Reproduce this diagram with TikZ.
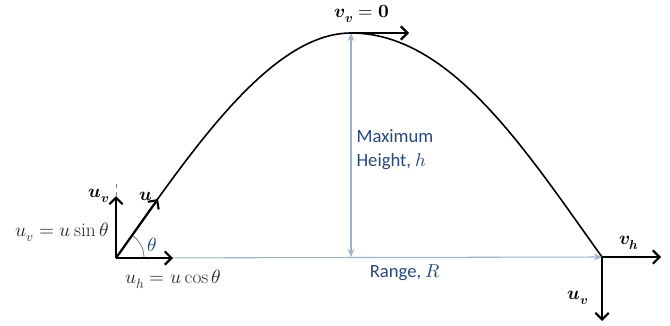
\documentclass[tikz,border=0pt]{standalone}
\usepackage{fontspec}
\usepackage{unicode-math}
\setmainfont{Carlito}
\setmathfont{Latin Modern Math}
\setmathrm{Latin Modern Roman}
\usepackage{tikz}
\usetikzlibrary{positioning,arrows.meta}
\definecolor{guide}{RGB}{160,178,198}
\definecolor{labelblue}{RGB}{40,72,118}
\definecolor{eqgray}{RGB}{45,45,45}

\tikzset{
  vec/.style={line width=1.6pt,-{Straight Barb[length=5pt,width=10pt]}},
  guideline/.style={guide,line width=0.8pt},
  eq/.style={text=eqgray,font=\fontsize{14.5}{16}\selectfont,inner sep=1pt},
  veclabel/.style={font=\fontsize{14}{16}\selectfont,inner sep=1pt},
  bluetext/.style={text=labelblue,font=\fontsize{14}{18}\selectfont,inner sep=1pt,align=left}
}

\begin{document}
\begin{tikzpicture}[x=0.75pt,y=-0.75pt]
\useasboundingbox (0,0) rectangle (670,325);
% points of the flight
\coordinate (launch) at (116,258);
\coordinate (apex) at (351,33);
\coordinate (land) at (602,257);
\coordinate (foot) at (351,257);
\coordinate (uTip) at (158,199);
\coordinate (uvTip) at (116,196);
\coordinate (uhTip) at (173,258);
\coordinate (mark) at (116,181);
\coordinate (vvTip) at (409,33);
\coordinate (vhTip) at (661,257);
\coordinate (uvDown) at (602,321);

% path of the projectile
\draw[line width=1.2pt] (launch) .. controls (190,153) and (270,33) .. (apex)
  .. controls (451,33) and (526,151) .. (land);

% range and height guides
\draw[guideline,-{Stealth[length=6pt,width=5pt,open]}] (launch) -- (land);
\draw[guideline,{Stealth[length=6pt,width=5pt,open]}-{Stealth[length=6pt,width=5pt,open]}] (apex) -- (foot);
\draw[gray,dashed,line width=0.6pt] (uvTip) -- (mark);
\draw[labelblue!70,line width=0.6pt] ([xshift=21pt]launch) arc[start angle=0,end angle=55,radius=21pt];

% velocity components
\draw[vec] (launch) -- (uTip);
\draw[vec] (launch) -- (uvTip);
\draw[vec] (launch) -- (uhTip);
\draw[vec] (apex) -- (vvTip);
\draw[vec] (land) -- (vhTip);
\draw[vec] (land) -- (uvDown);

% labels
\node[veclabel] (uvLbl) at (99,196) {$\symbfit{u}_{\symbfit{v}}$};
\node[veclabel] (uLbl) at (146,196) {$\symbfit{u}$};
\node[eq] (uvEq) at (62,232) {$u_v = u\sin\theta$};
\node[eq,text=labelblue] (theta) at (152,245) {$\theta$};
\node[eq] (uhEq) at (173,279) {$u_h = u\cos\theta$};
\node[veclabel] (vvLbl) at (362,14) {$\symbfit{v}_{\symbfit{v}}\symbf{=0}$};
\node[bluetext,anchor=west] (height) at (355,150) {Maximum\\Height, $h$};
\node[bluetext] (range) at (405,273) {Range, $R$};
\node[veclabel] (vhLbl) at (629,243) {$\symbfit{v}_{\symbfit{h}}$};
\node[veclabel] (uvDownLbl) at (578,298) {$\symbfit{u}_{\symbfit{v}}$};
\end{tikzpicture}
\end{document}
